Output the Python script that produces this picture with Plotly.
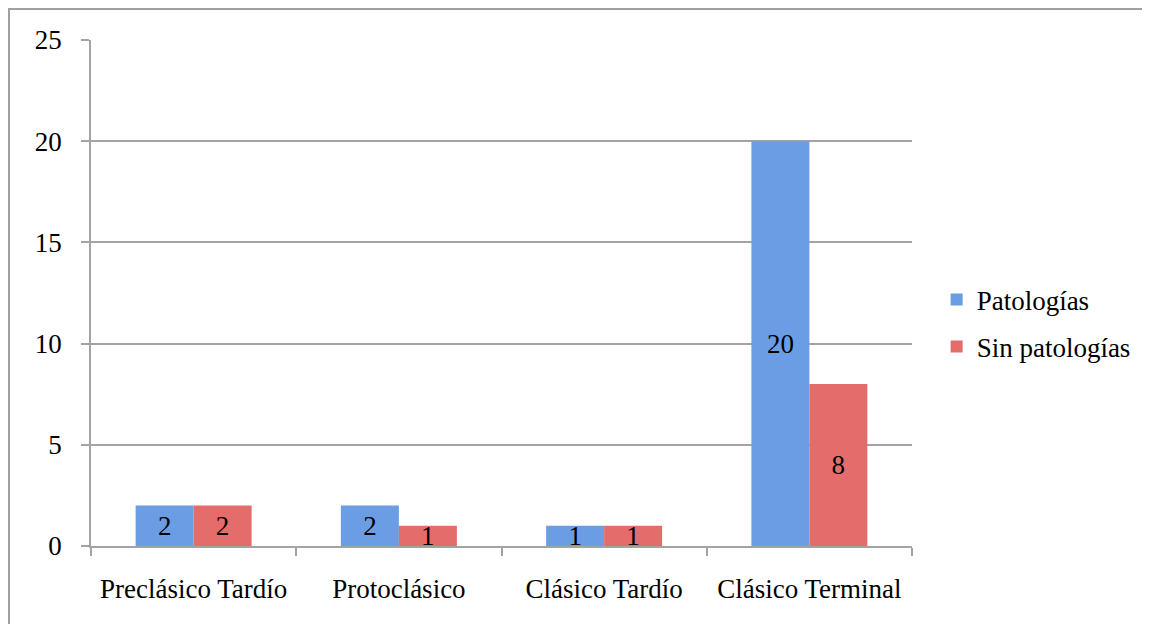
import plotly.graph_objects as go

# data
periodos = ["Preclásico Tardío", "Protoclásico", "Clásico Tardío", "Clásico Terminal"]
patologias = [2, 2, 1, 20]
sin_patologias = [2, 1, 1, 8]

FONT = "Liberation Serif"
GRIS = "#a3a3a3"
FS = 27

fig = go.Figure()

fig.add_trace(go.Bar(
    x=periodos, y=patologias, name="Patologías", legendgroup="a",
    marker=dict(color="#6a9de3", line=dict(width=0)),
    text=patologias, textposition="inside", insidetextanchor="middle",
    textangle=0, constraintext="none",
    textfont=dict(family=FONT, size=FS, color="black"),
))
fig.add_trace(go.Bar(
    x=periodos, y=sin_patologias, name="Sin patologías", legendgroup="b",
    marker=dict(color="#e46d6b", line=dict(width=0)),
    text=sin_patologias, textposition="inside", insidetextanchor="middle",
    textangle=0, constraintext="none",
    textfont=dict(family=FONT, size=FS, color="black"),
))

# page has an 8px body margin; plot area wanted at page x 91..912, y 40..546
OFF = 8
W, H = 1150 - OFF, 624 - OFF
L, T = 91 - OFF, 40 - OFF
R, B = W - (912 - OFF), H - (546 - OFF)
pw, ph = W - L - R, H - T - B

fig.update_layout(
    width=W, height=H,
    margin=dict(l=L, r=R, t=T, b=B, pad=0),
    paper_bgcolor="white", plot_bgcolor="white",
    font=dict(family=FONT, size=FS, color="black"),
    barmode="group", bargap=0.435, bargroupgap=0,
    uniformtext=dict(minsize=FS, mode="show"),
    showlegend=True,
    legend=dict(
        x=1.03, y=0.44, xanchor="left", yanchor="middle",
        traceorder="grouped", tracegroupgap=9,
        font=dict(family=FONT, size=FS, color="black"),
        bgcolor="rgba(0,0,0,0)",
    ),
    shapes=[dict(
        type="rect", xref="paper", yref="paper",
        x0=(1 - L) / pw, x1=(W + 10 - L) / pw,
        y0=-(B + 10) / ph, y1=(T + ph - 1) / ph,
        line=dict(color="#a0a0a0", width=2), fillcolor="rgba(0,0,0,0)",
        layer="below",
    )],
)

fig.update_yaxes(
    range=[0, 25], dtick=5, tick0=0,
    showgrid=True, gridcolor=GRIS, gridwidth=1.5,
    showline=True, linecolor=GRIS, linewidth=1.5,
    ticks="outside", ticklen=8, tickcolor=GRIS, tickwidth=1.5,
    zeroline=False, ticklabelstandoff=14,
    tickfont=dict(family=FONT, size=FS, color="black"),
)
fig.update_xaxes(
    showgrid=False,
    showline=True, linecolor=GRIS, linewidth=1.5,
    ticks="outside", tickson="boundaries", ticklen=8,
    tickcolor=GRIS, tickwidth=1.5,
    ticklabelstandoff=18,
    tickfont=dict(family=FONT, size=FS, color="black"),
)

fig.write_html("out.html")
